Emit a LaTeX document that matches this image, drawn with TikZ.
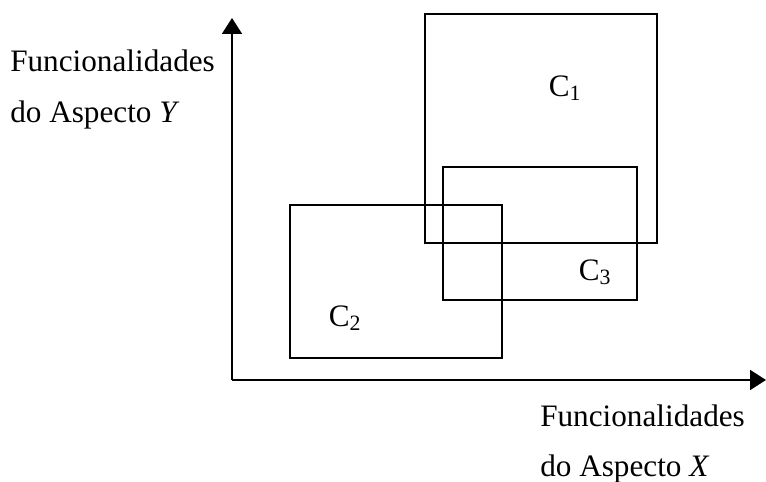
\documentclass[tikz,border=0pt]{standalone}
\usepackage{fontspec}
\setmainfont{Liberation Serif}
\usetikzlibrary{arrows.meta}

\tikzset{
    eixo/.style={line width=1.4pt, -{Triangle[width=0.5cm,length=0.4cm]}},
    caixa/.style={line width=1.2pt},
    rotulo/.style={anchor=base west, inner sep=0pt, font=\fontsize{22.2}{27}\selectfont},
    classe/.style={inner sep=0pt, font=\fontsize{22.2}{27}\selectfont}
}

\begin{document}
\begin{tikzpicture}
    \useasboundingbox (0,0) rectangle (19.15,12.05);

    % eixos
    \coordinate (O) at (5.8,2.55);
    \coordinate (ytop) at (5.8,11.6);
    \coordinate (xend) at (19.15,2.55);
    \draw[eixo] (O) -- (ytop);
    \draw[eixo] (O) -- (xend);

    \node[rotulo] (fy1) at (0.25,10.25) {Funcionalidades};
    \node[rotulo] (fy2) at (0.25,8.98) {do Aspecto \textit{Y}};
    \node[rotulo] (fx1) at (13.5,1.38) {Funcionalidades};
    \node[rotulo] (fx2) at (13.5,0.13) {do Aspecto \textit{X}};

    % conjuntos
    \draw[caixa] (10.625,5.975) rectangle (16.425,11.7);
    \draw[caixa] (11.075,4.55) rectangle (15.925,7.875);
    \draw[caixa] (7.25,3.1) rectangle (12.55,6.925);

    \node[classe] (c1) at (14.125,9.85) {C\textsubscript{1}};
    \node[classe] (c3) at (14.875,5.25) {C\textsubscript{3}};
    \node[classe] (c2) at (8.625,4.1) {C\textsubscript{2}};
\end{tikzpicture}
\end{document}
